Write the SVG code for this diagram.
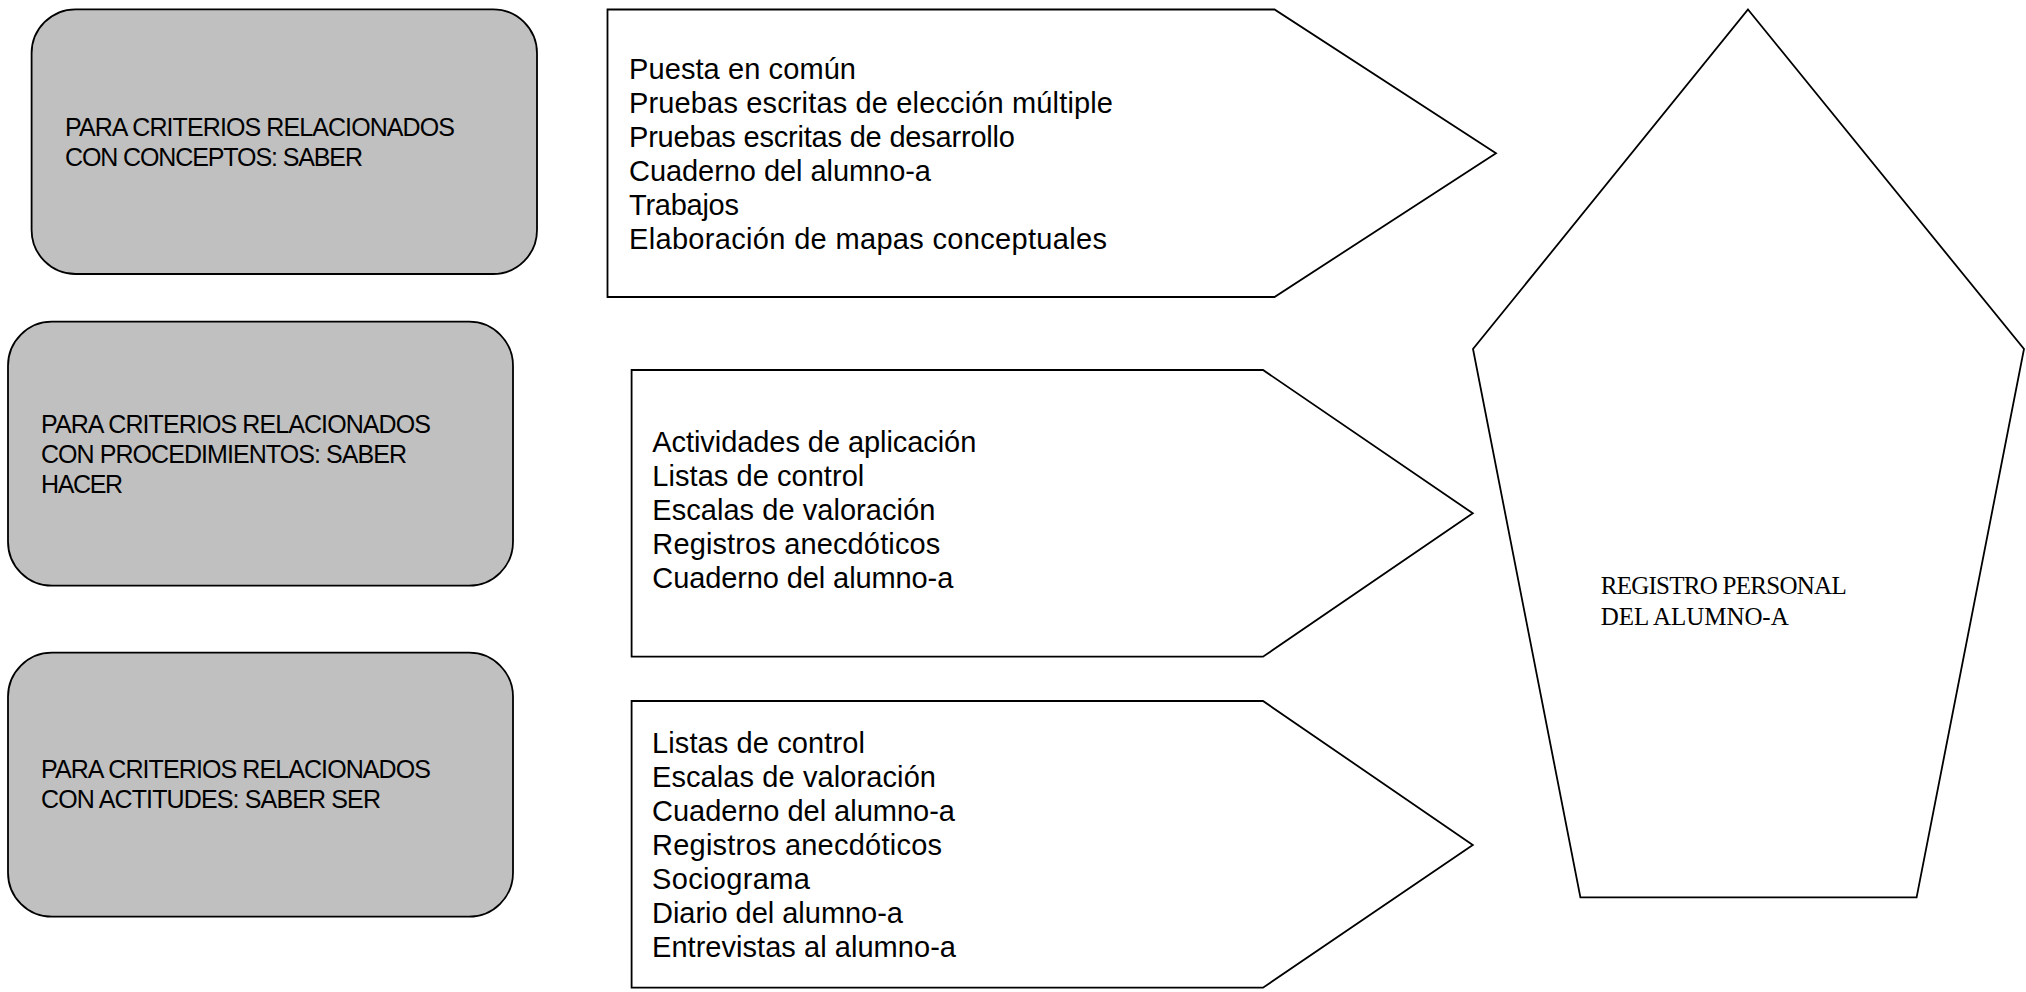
<svg xmlns="http://www.w3.org/2000/svg" width="2026" height="992" viewBox="0 0 2026 992">
<style>
.box{fill:#c0c0c0;stroke:#000;stroke-width:1.8}
.shape{fill:#fff;stroke:#000;stroke-width:1.8;stroke-linejoin:miter}
.bt{font-family:"Liberation Sans",Arial,sans-serif;font-size:25px;fill:#000}
.at{font-family:"Liberation Sans",Arial,sans-serif;font-size:29px;fill:#000}
.pt{font-family:"Liberation Serif","Times New Roman",serif;font-size:25px;fill:#000}
</style>
<rect width="2026" height="992" fill="#fff"/>
<g id="connectors"/>
<g id="box-conceptos">
<rect class="box" x="31.6" y="9.3" width="505.4" height="264.7" rx="44" ry="44"/>
<text class="bt" x="65" y="136" textLength="390" lengthAdjust="spacing">PARA CRITERIOS RELACIONADOS</text>
<text class="bt" x="65" y="166" textLength="298" lengthAdjust="spacing">CON CONCEPTOS: SABER</text>
</g>
<g id="box-procedimientos">
<rect class="box" x="8" y="321.7" width="505" height="264" rx="44" ry="44"/>
<text class="bt" x="41" y="432.7" textLength="390" lengthAdjust="spacing">PARA CRITERIOS RELACIONADOS</text>
<text class="bt" x="41" y="462.7" textLength="366" lengthAdjust="spacing">CON PROCEDIMIENTOS: SABER</text>
<text class="bt" x="41" y="492.7" textLength="82" lengthAdjust="spacing">HACER</text>
</g>
<g id="box-actitudes">
<rect class="box" x="8" y="652.7" width="505" height="264" rx="44" ry="44"/>
<text class="bt" x="41" y="778.3" textLength="390" lengthAdjust="spacing">PARA CRITERIOS RELACIONADOS</text>
<text class="bt" x="41" y="808.3" textLength="340" lengthAdjust="spacing">CON ACTITUDES: SABER SER</text>
</g>
<g id="arrow-conceptos">
<polygon class="shape" points="607.5,9.5 1274.5,9.5 1496,153.3 1274.5,297 607.5,297"/>
<text class="at" x="629" y="79.3" textLength="227" lengthAdjust="spacing">Puesta en común</text>
<text class="at" x="629" y="113.3" textLength="484" lengthAdjust="spacing">Pruebas escritas de elección múltiple</text>
<text class="at" x="629" y="147.3" textLength="386" lengthAdjust="spacing">Pruebas escritas de desarrollo</text>
<text class="at" x="629" y="181.3" textLength="302" lengthAdjust="spacing">Cuaderno del alumno-a</text>
<text class="at" x="629" y="215.3" textLength="110" lengthAdjust="spacing">Trabajos</text>
<text class="at" x="629" y="249.3" textLength="478" lengthAdjust="spacing">Elaboración de mapas conceptuales</text>
</g>
<g id="arrow-procedimientos">
<polygon class="shape" points="631.6,370 1263,370 1472.8,513.3 1263,656.7 631.6,656.7"/>
<text class="at" x="652.3" y="451.7" textLength="324" lengthAdjust="spacing">Actividades de aplicación</text>
<text class="at" x="652.3" y="485.7" textLength="212" lengthAdjust="spacing">Listas de control</text>
<text class="at" x="652.3" y="519.7" textLength="283" lengthAdjust="spacing">Escalas de valoración</text>
<text class="at" x="652.3" y="553.7" textLength="288" lengthAdjust="spacing">Registros anecdóticos</text>
<text class="at" x="652.3" y="587.7" textLength="301" lengthAdjust="spacing">Cuaderno del alumno-a</text>
</g>
<g id="arrow-actitudes">
<polygon class="shape" points="631.6,701 1263,701 1472.8,845 1263,987.7 631.6,987.7"/>
<text class="at" x="652" y="753.3" textLength="213" lengthAdjust="spacing">Listas de control</text>
<text class="at" x="652" y="787.3" textLength="284" lengthAdjust="spacing">Escalas de valoración</text>
<text class="at" x="652" y="821.3" textLength="303" lengthAdjust="spacing">Cuaderno del alumno-a</text>
<text class="at" x="652" y="855.3" textLength="290" lengthAdjust="spacing">Registros anecdóticos</text>
<text class="at" x="652" y="889.3" textLength="158" lengthAdjust="spacing">Sociograma</text>
<text class="at" x="652" y="923.3" textLength="251" lengthAdjust="spacing">Diario del alumno-a</text>
<text class="at" x="652" y="957.3" textLength="304" lengthAdjust="spacing">Entrevistas al alumno-a</text>
</g>
<g id="registro">
<polygon class="shape" points="1748,9.5 2024,349 1916.6,897.3 1580.4,897.3 1473,349"/>
<text class="pt" x="1600.7" y="594.3" textLength="246" lengthAdjust="spacing">REGISTRO PERSONAL</text>
<text class="pt" x="1600.7" y="625" textLength="188" lengthAdjust="spacing">DEL ALUMNO-A</text>
</g>
</svg>
